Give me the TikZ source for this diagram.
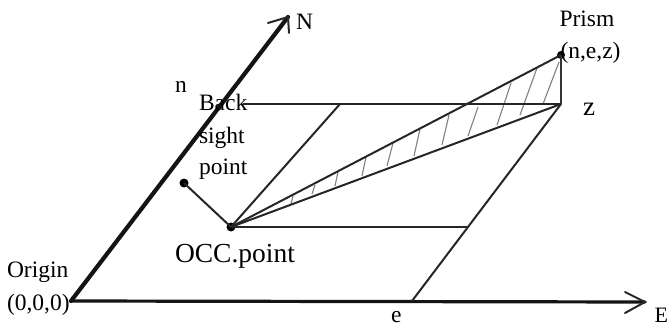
\documentclass[tikz,border=0pt]{standalone}
\usepackage{fontspec}
\setmainfont{Liberation Serif}
\tikzset{
  lbl/.style={anchor=base west,inner sep=0pt,outer sep=0pt,text=black,font=\fontsize{23.5}{26}\selectfont},
  axis/.style={draw=black!92,line width=3.2pt,line cap=round},
  axisN/.style={draw=black!92,line width=4.2pt,line cap=round},
  barb/.style={draw=black!85,line width=2pt,line cap=round,line join=miter},
  thinl/.style={draw=black!85,line width=2pt},
  hatchl/.style={draw=black!50,line width=1.1pt},
  pt/.style={circle,fill=black,inner sep=0pt,minimum size=#1}
}
\begin{document}
\begin{tikzpicture}[x=1pt,y=-1pt]
\useasboundingbox (0,0) rectangle (669,326);
\coordinate (O) at (71,301);
\coordinate (Ntip) at (288,17);
\coordinate (Na) at (268,23);
\coordinate (Nb) at (289,33);
\coordinate (Etip) at (645,302);
\coordinate (Ea) at (625,292);
\coordinate (Eb) at (625,313);
\coordinate (ep) at (412,301);
\coordinate (zp) at (561,104);
\coordinate (nl) at (243,104);
\coordinate (m1) at (340,104);
\coordinate (m2) at (468,227);
\node[pt=9pt] (occ) at (231,227) {};
\node[pt=9pt] (bs) at (184,183) {};
\node[pt=8pt] (prism) at (561,55) {};
% hatching
\foreach \xa/\ya/\xb/\yb in {293/196/291/204,315/185/312/194,338/172/335/186,366/157/362/176,393/143/387/166,420/129/414/156,449/115/442/145,478/107/468/136,511/83/497/125,537/68/520/115,559/62/543/104}
  \draw[hatchl] (\xa,\ya) -- (\xb,\yb);
% axes
\draw[axisN] (O) -- (Ntip);
\draw[axis] (O) -- (Etip);
\draw[barb] (Na) -- (Ntip) -- (Nb);
\draw[barb] (Ea) -- (Etip) -- (Eb);
% construction lines
\draw[thinl] (nl) -- (zp);
\draw[thinl] (ep) -- (zp);
\draw[thinl] (occ.center) -- (m1);
\draw[thinl] (occ.center) -- (m2);
\draw[thinl] (occ.center) -- (bs.center);
\draw[thinl] (occ.center) -- (prism.center);
\draw[thinl] (occ.center) -- (zp);
\draw[draw=black!80,line width=2.6pt] (prism.center) -- (zp);
% labels
\node[lbl] (lN) at (296,30) {N};
\node[lbl] (ln) at (175,93) {n};
\node[lbl] (lb1) at (199,111) {Back};
\node[lbl] (lb2) at (199,143) {sight};
\node[lbl] (lb3) at (199,175) {point};
\node[lbl] (lP) at (559.5,27) {Prism};
\node[lbl] (lnez) at (560.5,59) {(n,e,z)};
\node[lbl,font=\fontsize{27}{30}\selectfont] (lz) at (583,116) {z};
\node[lbl,font=\fontsize{27.5}{30}\selectfont] (locc) at (175,262) {OCC.point};
\node[lbl] (lo1) at (7,277) {Origin};
\node[lbl] (lo2) at (7,310) {(0,0,0)};
\node[lbl] (le) at (391,322) {e};
\node[lbl,font=\fontsize{22}{26}\selectfont] (lE) at (654.5,322) {E};
\end{tikzpicture}
\end{document}
